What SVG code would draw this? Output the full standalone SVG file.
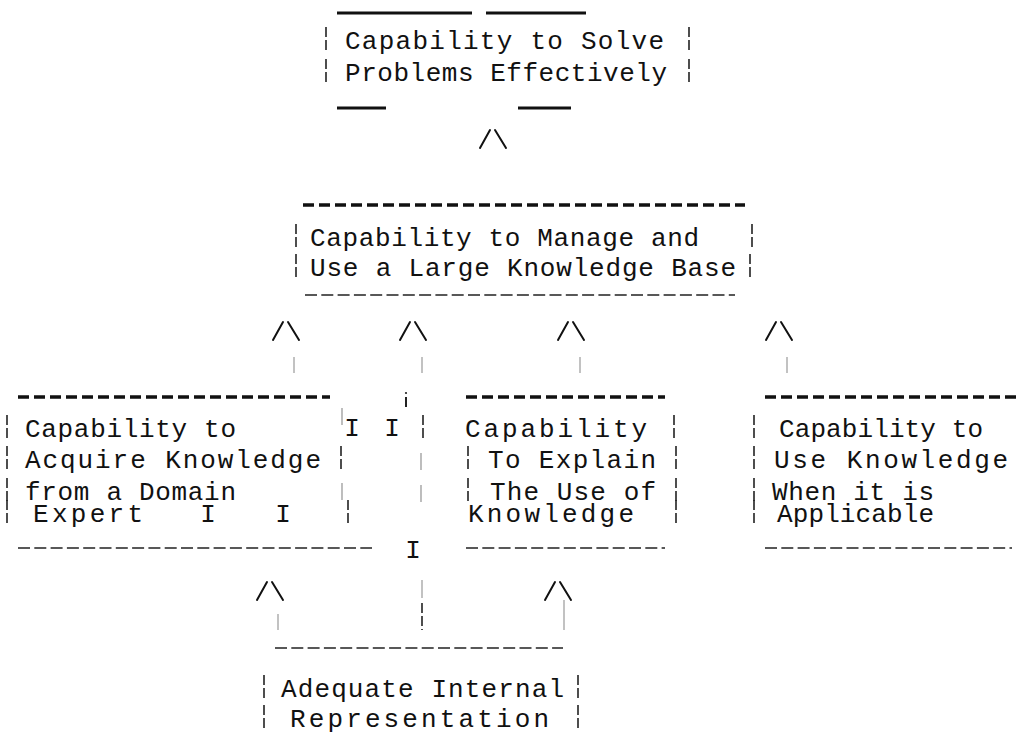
<svg xmlns="http://www.w3.org/2000/svg" xmlns:xlink="http://www.w3.org/1999/xlink" width="1019" height="739" viewBox="0 0 1019 739">
<style>
text{font-family:"Liberation Mono","DejaVu Sans Mono",monospace;font-size:26px;fill:#111}
.I{text-anchor:middle}
.bar{stroke:#222;stroke-width:1.6;stroke-dasharray:10 3;fill:none}
.thinbar{stroke:#888;stroke-width:1.1;fill:none}
.solid{stroke:#111;stroke-width:3;fill:none}
.dk{stroke:#111;stroke-width:3.5;stroke-dasharray:11 5;fill:none}
.dn{stroke:#222;stroke-width:1.6;stroke-dasharray:12 4.3;fill:none}
.arr{stroke:#111;stroke-width:2;fill:none;stroke-linecap:round}
.tick{stroke:#999;stroke-width:1.2;fill:none}
</style>
<defs>
<line id="bar" x1="0" y1="-22" x2="0" y2="2" class="bar"/>
<path id="arr" d="M0,18 L10,0 M15,0 L26,18" class="arr"/>
</defs>
<rect width="1019" height="739" fill="#fff"/>

<g id="connectors">
<use xlink:href="#arr" x="480" y="130"/>
<use xlink:href="#arr" x="273" y="322"/>
<use xlink:href="#arr" x="400" y="322"/>
<use xlink:href="#arr" x="558" y="322"/>
<use xlink:href="#arr" x="766" y="322"/>
<line class="tick" x1="294" y1="357" x2="294" y2="373"/>
<line class="tick" x1="422" y1="357" x2="422" y2="373"/>
<line class="tick" x1="580" y1="357" x2="580" y2="373"/>
<line class="tick" x1="787" y1="357" x2="787" y2="373"/>
<use xlink:href="#arr" x="257" y="582"/>
<use xlink:href="#arr" x="545" y="582"/>
<line class="tick" x1="278" y1="614" x2="278" y2="630"/>
<line class="tick" x1="422" y1="580" x2="422" y2="598"/>
<line class="bar" x1="422" y1="603" x2="422" y2="630"/>
<line class="tick" x1="564" y1="600" x2="564" y2="630"/>
</g>

<g id="n-solve">
<line class="solid" x1="337" y1="13" x2="472" y2="13"/>
<line class="solid" x1="486" y1="13" x2="586" y2="13"/>
<use xlink:href="#bar" x="326" y="49"/>
<use xlink:href="#bar" x="326" y="81"/>
<use xlink:href="#bar" x="689" y="49"/>
<use xlink:href="#bar" x="689" y="81"/>
<text x="345" y="49" textLength="319">Capability to Solve</text>
<text x="345" y="81" textLength="322">Problems Effectively</text>
<line class="solid" x1="337" y1="108" x2="386" y2="108"/>
<line class="solid" x1="518" y1="108" x2="571" y2="108"/>
</g>

<g id="n-manage">
<line class="dk" x1="303" y1="205" x2="745" y2="205"/>
<use xlink:href="#bar" x="296" y="246"/>
<use xlink:href="#bar" x="296" y="276"/>
<use xlink:href="#bar" x="752" y="246"/>
<use xlink:href="#bar" x="750" y="276"/>
<text x="310" y="246" textLength="389">Capability to Manage and</text>
<text x="310" y="276" textLength="426">Use a Large Knowledge Base</text>
<line class="dn" x1="305" y1="295" x2="735" y2="295"/>
</g>

<g id="n-acquire">
<line class="dk" x1="18" y1="397" x2="330" y2="397"/>
<use xlink:href="#bar" x="7" y="437"/>
<use xlink:href="#bar" x="7" y="468"/>
<use xlink:href="#bar" x="7" y="500"/>
<use xlink:href="#bar" x="7" y="522"/>
<text x="25" y="437" textLength="211">Capability to</text>
<text x="25" y="468" textLength="296">Acquire Knowledge</text>
<use xlink:href="#bar" x="341" y="468"/>
<text x="25" y="500" textLength="211">from a Domain</text>
<line class="thinbar" x1="342" y1="483" x2="342" y2="500"/>
<text x="33" y="522" textLength="110">Expert</text>
<text class="I" x="208" y="522">I</text>
<text class="I" x="283" y="522">I</text>
<use xlink:href="#bar" x="348" y="522"/>
<line class="dn" x1="18" y1="548" x2="372" y2="548"/>
</g>

<g id="fragments">
<line class="thinbar" x1="342" y1="408" x2="342" y2="425"/>
<text class="I" x="352" y="436">I</text>
<text class="I" x="392" y="436">I</text>
<use xlink:href="#bar" x="423" y="437"/>
<line stroke="#222" stroke-width="2" x1="406" y1="397" x2="406" y2="407"/>
<circle cx="406" cy="393" r="1.1" fill="#222"/>
<line class="thinbar" x1="421" y1="453" x2="421" y2="470"/>
<line class="thinbar" x1="421" y1="485" x2="421" y2="502"/>
<text class="I" x="413" y="558">I</text>
</g>

<g id="n-explain">
<line class="dk" x1="466" y1="397" x2="665" y2="397"/>
<text x="465" y="437" textLength="182">Capability</text>
<use xlink:href="#bar" x="674" y="437"/>
<use xlink:href="#bar" x="468" y="468"/>
<text x="488" y="468" textLength="168">To Explain</text>
<use xlink:href="#bar" x="676" y="468"/>
<use xlink:href="#bar" x="468" y="500"/>
<text x="490" y="500" textLength="166">The Use of</text>
<use xlink:href="#bar" x="676" y="500"/>
<text x="468" y="522" textLength="166">Knowledge</text>
<use xlink:href="#bar" x="676" y="522"/>
<line class="dn" x1="466" y1="548" x2="665" y2="548"/>
</g>

<g id="n-use">
<line class="dk" x1="765" y1="397" x2="1017" y2="397"/>
<use xlink:href="#bar" x="754" y="437"/>
<text x="779" y="437" textLength="204">Capability to</text>
<use xlink:href="#bar" x="754" y="468"/>
<text x="774" y="468" textLength="234">Use Knowledge</text>
<use xlink:href="#bar" x="754" y="500"/>
<text x="772" y="500" textLength="162">When it is</text>
<use xlink:href="#bar" x="754" y="522"/>
<text x="777" y="522" textLength="157">Applicable</text>
<line class="dn" x1="765" y1="548" x2="1012" y2="548"/>
</g>

<g id="n-adequate">
<line class="dn" x1="275" y1="648" x2="563" y2="648"/>
<use xlink:href="#bar" x="264" y="697"/>
<text x="281" y="697" textLength="283">Adequate Internal</text>
<use xlink:href="#bar" x="578" y="697"/>
<use xlink:href="#bar" x="264" y="727"/>
<text x="290" y="727" textLength="259">Representation</text>
<use xlink:href="#bar" x="578" y="727"/>
</g>
</svg>
